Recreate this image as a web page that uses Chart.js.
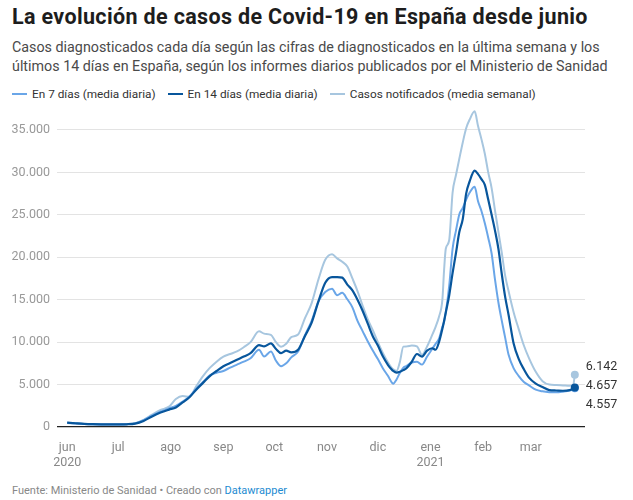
<!DOCTYPE html>
<html lang="es">
<head>
<meta charset="utf-8">
<script src="https://cdn.jsdelivr.net/npm/chart.js@4"></script>
<style>
  body { margin: 0; width: 633px; height: 500px; background: #fff; font-family: Roboto, sans-serif; position: relative; overflow: hidden; }
  h1 { position: absolute; left: 12px; top: 4px; margin: 0; font-size: 21.5px; font-weight: 700; color: #1d1d1d; letter-spacing: 0.35px; white-space: nowrap; }
  .sub { position: absolute; left: 12px; top: 38px; margin: 0; font-size: 14.3px; line-height: 19px; color: #4a4a4a; width: 610px; }
  .legend { position: absolute; left: 12px; top: 87px; font-size: 11.8px; color: #333; white-space: nowrap; }
  .legend span { display: inline-block; margin-right: 12px; }
  .legend i { display: inline-block; width: 15px; height: 2px; vertical-align: middle; margin-right: 5px; position: relative; top: -1px; }
  #wrap { position: absolute; left: 0; top: 90px; width: 633px; height: 385px; }
  .foot { position: absolute; left: 12px; top: 484px; font-size: 11px; color: #888; }
  .foot a { color: #1d8bd1; text-decoration: none; }
</style>
</head>
<body>
<h1>La evolución de casos de Covid-19 en España desde junio</h1>
<p class="sub">Casos diagnosticados cada día según las cifras de diagnosticados en la última semana y los últimos 14 días en España, según los informes diarios publicados por el Ministerio de Sanidad</p>
<div class="legend" id="legend"></div>
<div id="wrap"><canvas id="chart"></canvas></div>
<div class="foot">Fuente: Ministerio de Sanidad • Creado con <a>Datawrapper</a></div>
<script>
// days since 1 June 2020
const days = [0,5,10,15,20,25,30,35,40,45,50,55,60,64,68,72,76,80,84,88,92,96,100,104,108,113,116,120,123,126,129,132,136,140,144,148,152,156,159,162,165,168,171,174,177,180,183,186,189,191,192,194,196,198,200,203,206,209,212,215,217,219,221,222,223,225,227,229,231,233,235,237,240,242,244,246,248,250,252,254,256,258,260,263,266,269,272,276,280,284,288,292,296,298,299];

const casos7 = [500,420,350,320,300,290,300,330,430,800,1350,1800,2200,2500,3000,3600,4500,5300,6100,6400,6600,7000,7350,7700,8100,9100,8300,8900,7800,7160,7500,8200,8900,10800,12500,14800,15900,16290,15520,15820,15050,14100,12500,11300,10100,9000,8000,6900,6000,5300,5100,5600,6400,7000,7200,7600,7700,7350,8300,9200,9800,10400,11800,12400,13500,16600,21000,23140,25070,25800,26800,27600,28300,26600,25450,24000,22300,20440,17360,14670,12500,10500,8500,6900,6000,5300,4900,4400,4200,4100,4080,4160,4300,4450,4557];

const casos14 = [520,440,370,330,310,300,300,320,400,720,1250,1700,2050,2300,2900,3500,4400,5200,6000,6600,7160,7550,7930,8300,8700,9650,9500,9850,9200,8700,9000,8800,9100,10700,12300,14800,17000,17670,17670,17600,16780,16100,15000,13700,12200,10700,9600,8300,7300,6800,6600,6400,6500,6700,6960,7700,8600,8300,9000,9280,9100,10000,11580,12500,13500,15500,18130,20500,23000,24490,27500,28910,30200,29800,29200,28530,26800,25000,23140,21000,18000,15300,13200,9800,8000,6800,5810,5100,4700,4350,4300,4270,4350,4500,4657];

const notificados = [480,400,340,310,300,290,300,340,460,850,1450,2000,2400,3300,3650,3550,4800,6000,6960,7700,8300,8600,8900,9400,10000,11280,11000,10850,10000,9470,9800,10600,10900,12800,14600,17400,19700,20360,19870,19480,18900,17500,16020,14300,12700,11400,10000,8700,7600,7000,6800,6600,7700,9470,9500,9600,9500,8500,9500,10850,11800,13000,15000,18500,21000,22000,27600,29700,31640,33530,35200,36200,37200,35460,33920,32200,30000,28150,25500,23000,20500,17800,16000,13500,11500,9600,8120,6500,5400,5000,4950,4900,4850,4900,6142];

const monthDays = [0,30,61,92,122,153,183,214,245,273];
const monthLabels = [['jun','2020'],'jul','ago','sep','oct','nov','dic',['ene','2021'],'feb','mar'];
const yTicks = [0,5000,10000,15000,20000,25000,30000,35000];

const series = [
  { label: 'En 7 días (media diaria)', data: casos7, color: '#6aa6e8', order: 1, width: 2 },
  { label: 'En 14 días (media diaria)', data: casos14, color: '#08569c', order: 0, width: 2.2 },
  { label: 'Casos notificados (media semanal)', data: notificados, color: '#a7c6df', order: 2, width: 2 }
];

const fmt = v => v.toLocaleString('de-DE');

// legend
document.getElementById('legend').innerHTML = series.map(s =>
  `<span><i style="background:${s.color}"></i>${s.label}</span>`).join('');

// end value labels, spread so they don't overlap
const endLabels = {
  id: 'endLabels',
  afterDatasetsDraw(chart) {
    const { ctx } = chart;
    const items = chart.data.datasets.map((ds, i) => {
      const meta = chart.getDatasetMeta(i);
      const pt = meta.data[meta.data.length - 1];
      return { x: pt.x, y: pt.y, v: ds.data[ds.data.length - 1].y };
    }).sort((a, b) => b.v - a.v);
    const gap = 19;
    const mean = items.reduce((s, it) => s + it.y, 0) / items.length + 2;
    ctx.save();
    ctx.font = '12.5px Roboto';
    ctx.fillStyle = '#333';
    ctx.textBaseline = 'middle';
    items.forEach((it, k) => {
      const y = mean + (k - (items.length - 1) / 2) * gap;
      ctx.fillText(fmt(it.v), it.x + 11, y);
    });
    ctx.restore();
  }
};

const last = days.length - 1;

new Chart(document.getElementById('chart'), {
  type: 'line',
  data: {
    datasets: series.map(s => ({
      label: s.label,
      data: days.map((d, i) => ({ x: d, y: s.data[i] })),
      borderColor: s.color,
      backgroundColor: s.color,
      borderWidth: s.width,
      order: s.order,
      cubicInterpolationMode: 'monotone',
      pointRadius: ctx => ctx.dataIndex === last ? 4 : 0,
      pointBorderWidth: 0,
      fill: false
    }))
  },
  options: {
    responsive: true,
    maintainAspectRatio: false,
    animation: false,
    layout: { padding: { top: 8, right: 48, bottom: 0, left: 0 } },
    plugins: { legend: { display: false }, tooltip: { enabled: false } },
    scales: {
      x: {
        type: 'linear',
        min: -6,
        max: 305,
        afterBuildTicks: axis => { axis.ticks = monthDays.map(v => ({ value: v })); },
        afterFit: scale => { scale.height = 48; },
        grid: { display: false },
        border: { display: false },
        ticks: {
          autoSkip: false,
          maxRotation: 0,
          padding: 5,
          color: '#888',
          font: { family: 'Roboto', size: 12.5 },
          callback: (v) => monthLabels[monthDays.indexOf(v)]
        }
      },
      y: {
        min: 0,
        max: 38000,
        afterBuildTicks: axis => { axis.ticks = yTicks.map(v => ({ value: v })); },
        afterFit: scale => { scale.width = 57; },
        border: { display: false },
        grid: {
          drawTicks: false,
          color: ctx => ctx.tick && ctx.tick.value === 0 ? '#222' : '#e3e3e3',
          lineWidth: ctx => ctx.tick && ctx.tick.value === 0 ? 1.2 : 1
        },
        ticks: {
          padding: 7,
          color: '#999',
          font: { family: 'Roboto', size: 12.5 },
          callback: v => fmt(v)
        }
      }
    }
  },
  plugins: [endLabels]
});
</script>
</body>
</html>
